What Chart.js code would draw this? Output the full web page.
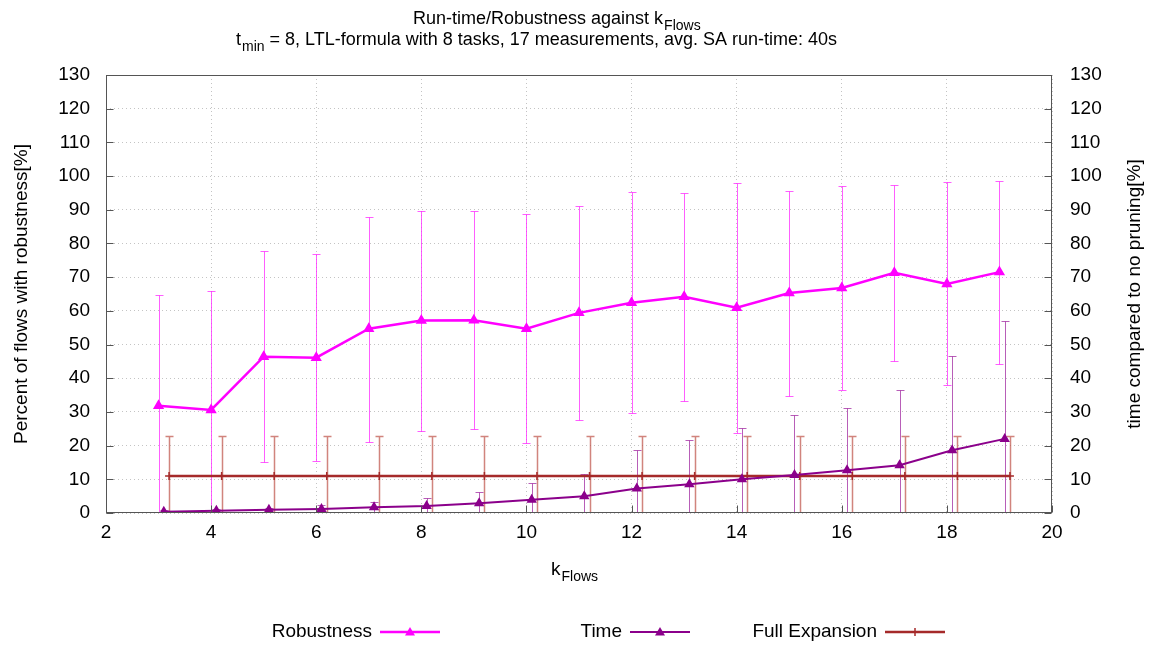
<!DOCTYPE html>
<html>
<head>
<meta charset="utf-8">
<script src="https://cdn.jsdelivr.net/npm/chart.js@4/dist/chart.umd.min.js"></script>
<style>
  html, body { margin: 0; padding: 0; background: #fff; }
</style>
</head>
<body>
<canvas id="myChart" width="1153" height="646"></canvas>
<script>
const FONT = '"Liberation Sans", Arial, sans-serif';

// data
const kFlows = [3, 4, 5, 6, 7, 8, 9, 10, 11, 12, 13, 14, 15, 16, 17, 18, 19];

const robustness     = [31.8, 30.6, 46.4, 46.1, 54.7, 57.1, 57.2, 54.7, 59.4, 62.4, 64.2, 60.9, 65.3, 66.8, 71.3, 68.0, 71.5];
const robustnessLow  = [0, 0, 15.0, 15.3, 21.0, 24.3, 24.8, 20.7, 27.6, 29.6, 33.3, 23.8, 34.6, 36.4, 45.0, 37.9, 44.2];
const robustnessHigh = [64.6, 65.8, 77.8, 76.8, 88.0, 89.5, 89.5, 88.6, 91.1, 95.2, 94.9, 97.8, 95.6, 97.2, 97.5, 98.2, 98.6];

const time     = [0.4, 0.7, 1.0, 1.2, 1.7, 2.1, 2.9, 3.9, 5.0, 7.3, 8.5, 10.0, 11.3, 12.7, 14.2, 18.6, 22.0];
const timeLow  = [0, 0, 0, 0, 0, 0, 0, 0, 0, 0, 0, 0, 0, 0, 0, 0, 0];
const timeHigh = [0.9, 1.2, 1.6, 2.5, 3.4, 4.5, 6.3, 8.8, 11.5, 18.6, 21.6, 25.2, 29.0, 31.3, 36.4, 46.6, 57.1];

const fullExpansion     = [11, 11, 11, 11, 11, 11, 11, 11, 11, 11, 11, 11, 11, 11, 11, 11, 11];
const fullExpansionLow  = [0, 0, 0, 0, 0, 0, 0, 0, 0, 0, 0, 0, 0, 0, 0, 0, 0];
const fullExpansionHigh = [23, 23, 23, 23, 23, 23, 23, 23, 23, 23, 23, 23, 23, 23, 23, 23, 23];

// series are shifted a bit along x so the error bars don't overlap
const timeShift = 0.1;
const fullShift = 0.2;

function toPoints(values, shift) {
  return kFlows.map((k, i) => ({ x: k + shift, y: values[i] }));
}

// vertical error bars with small caps
const errorBars = {
  id: 'errorBars',
  beforeDatasetsDraw(chart) {
    const ctx = chart.ctx;
    const a = chart.chartArea;
    ctx.save();
    ctx.beginPath();
    ctx.rect(a.left, a.top, a.right - a.left, a.bottom - a.top);
    ctx.clip();
    chart.data.datasets.forEach((ds, i) => {
      const meta = chart.getDatasetMeta(i);
      const ys = chart.scales[ds.yAxisID];
      ctx.strokeStyle = ds.errColor;
      ctx.lineWidth = ds.errWidth;
      meta.data.forEach((pt, j) => {
        const top = Math.round(ys.getPixelForValue(ds.errHigh[j])) + 0.5;
        const bot = Math.round(ys.getPixelForValue(ds.errLow[j])) + 0.5;
        const x = Math.round(pt.x) + 0.5;
        ctx.beginPath();
        ctx.moveTo(x, top); ctx.lineTo(x, bot);
        ctx.moveTo(x - 4, top); ctx.lineTo(x + 4, top);
        ctx.moveTo(x - 4, bot); ctx.lineTo(x + 4, bot);
        ctx.stroke();
      });
    });
    ctx.restore();
  }
};

// gnuplot style frame with inward ticks
const frame = {
  id: 'frame',
  afterDatasetsDraw(chart) {
    const ctx = chart.ctx;
    const a = chart.chartArea;
    const L = Math.round(a.left) + 0.5, R = Math.round(a.right) - 0.5;
    const T = Math.round(a.top) + 0.5, B = Math.round(a.bottom) - 0.5;
    ctx.save();
    ctx.strokeStyle = '#555';
    ctx.lineWidth = 1;
    ctx.strokeRect(L, T, R - L, B - T);
    ctx.beginPath();
    chart.scales.y.ticks.forEach(t => {
      const y = Math.round(chart.scales.y.getPixelForValue(t.value)) + 0.5;
      ctx.moveTo(L, y); ctx.lineTo(L + 7, y);
    });
    chart.scales.y2.ticks.forEach(t => {
      const y = Math.round(chart.scales.y2.getPixelForValue(t.value)) + 0.5;
      ctx.moveTo(R, y); ctx.lineTo(R - 7, y);
    });
    chart.scales.x.ticks.forEach(t => {
      const x = Math.round(chart.scales.x.getPixelForValue(t.value)) + 0.5;
      ctx.moveTo(x, B); ctx.lineTo(x, B - 7);
    });
    ctx.stroke();
    ctx.restore();
  }
};

function textWithSub(ctx, x, y, main, sub, size, after) {
  ctx.font = size + 'px ' + FONT;
  ctx.fillText(main, x, y);
  let w = ctx.measureText(main).width;
  ctx.font = Math.round(size * 0.75) + 'px ' + FONT;
  ctx.fillText(sub, x + w + 1, y + 6);
  w += ctx.measureText(sub).width + 1;
  if (after) {
    ctx.font = size + 'px ' + FONT;
    ctx.fillText(after, x + w, y);
  }
}

function drawMarker(ctx, style, x, y, color) {
  ctx.fillStyle = color;
  ctx.strokeStyle = color;
  if (style === 'triangle') {
    ctx.beginPath();
    ctx.moveTo(x, y - 5);
    ctx.lineTo(x + 5, y + 3.5);
    ctx.lineTo(x - 5, y + 3.5);
    ctx.closePath();
    ctx.fill();
  } else {
    ctx.lineWidth = 1.5;
    ctx.beginPath();
    ctx.moveTo(x - 4, y); ctx.lineTo(x + 4, y);
    ctx.moveTo(x, y - 4); ctx.lineTo(x, y + 4);
    ctx.stroke();
  }
}

const texts = {
  id: 'texts',
  afterDraw(chart) {
    const ctx = chart.ctx;
    ctx.save();
    ctx.fillStyle = '#000';
    ctx.textBaseline = 'alphabetic';
    ctx.textAlign = 'left';

    // title
    textWithSub(ctx, 413, 24, 'Run-time/Robustness against k', 'Flows', 18);
    textWithSub(ctx, 236, 45, 't', 'min', 18, ' = 8, LTL-formula with 8 tasks, 17 measurements, avg. SA run-time: 40s');

    // x axis title
    textWithSub(ctx, 551, 575, 'k', 'Flows', 19);

    // y axis titles, both reading bottom to top
    ctx.font = '19px ' + FONT;
    ctx.textAlign = 'center';
    ctx.textBaseline = 'middle';
    const midY = (chart.chartArea.top + chart.chartArea.bottom) / 2;
    ctx.save();
    ctx.translate(22, midY);
    ctx.rotate(-Math.PI / 2);
    ctx.fillText('Percent of flows with robustness[%]', 0, 0);
    ctx.restore();
    ctx.save();
    ctx.translate(1135, midY);
    ctx.rotate(-Math.PI / 2);
    ctx.fillText('time compared to no pruning[%]', 0, 0);
    ctx.restore();

    // legend: text, then line sample with marker
    const y = 632;
    chart.data.datasets.forEach(ds => {
      ctx.fillStyle = '#000';
      ctx.textAlign = 'right';
      ctx.font = '19px ' + FONT;
      ctx.fillText(ds.label, ds.legendX, y);
      const x1 = ds.legendX + 8, x2 = ds.legendX + 68;
      ctx.strokeStyle = ds.borderColor;
      ctx.lineWidth = ds.borderWidth;
      ctx.beginPath();
      ctx.moveTo(x1, y); ctx.lineTo(x2, y);
      ctx.stroke();
      drawMarker(ctx, ds.pointStyle, (x1 + x2) / 2, y, ds.borderColor);
    });
    ctx.restore();
  }
};

const tickFont = { family: FONT, size: 19 };

const config = {
  type: 'line',
  data: {
    datasets: [
      {
        label: 'Robustness',
        data: toPoints(robustness, 0),
        yAxisID: 'y',
        borderColor: '#ff00ff',
        backgroundColor: '#ff00ff',
        borderWidth: 2.5,
        pointStyle: 'triangle',
        pointRadius: 4,
        errLow: robustnessLow,
        errHigh: robustnessHigh,
        errColor: 'rgba(255, 40, 255, 0.75)',
        errWidth: 1,
        legendX: 372
      },
      {
        label: 'Time',
        data: toPoints(time, timeShift),
        yAxisID: 'y2',
        borderColor: '#8b008b',
        backgroundColor: '#8b008b',
        borderWidth: 2,
        pointStyle: 'triangle',
        pointRadius: 4,
        errLow: timeLow,
        errHigh: timeHigh,
        errColor: 'rgba(160, 40, 160, 0.75)',
        errWidth: 1,
        legendX: 622
      },
      {
        label: 'Full Expansion',
        data: toPoints(fullExpansion, fullShift),
        yAxisID: 'y',
        borderColor: '#a52a2a',
        backgroundColor: '#a52a2a',
        borderWidth: 2.5,
        pointStyle: 'cross',
        pointRadius: 4,
        pointBorderWidth: 1.5,
        errLow: fullExpansionLow,
        errHigh: fullExpansionHigh,
        errColor: 'rgba(190, 80, 70, 0.7)',
        errWidth: 1.5,
        legendX: 877
      }
    ]
  },
  options: {
    responsive: false,
    animation: false,
    layout: { padding: { top: 75, left: 0, right: 0, bottom: 0 } },
    elements: { line: { tension: 0 } },
    plugins: {
      legend: { display: false },
      title: { display: false },
      tooltip: { enabled: false }
    },
    scales: {
      x: {
        type: 'linear',
        min: 2,
        max: 20,
        ticks: { stepSize: 2, padding: 8, color: '#000', font: tickFont },
        grid: { color: '#c4c4c4', drawTicks: false },
        border: { display: false, dash: [1, 3] },
        afterFit(s) { s.height = 133; }
      },
      y: {
        position: 'left',
        min: 0,
        max: 130,
        ticks: { stepSize: 10, padding: 16, color: '#000', font: tickFont },
        grid: { color: '#c4c4c4', drawTicks: false },
        border: { display: false, dash: [1, 3] },
        afterFit(s) { s.width = 106; }
      },
      y2: {
        position: 'right',
        min: 0,
        max: 130,
        ticks: { stepSize: 10, padding: 18, color: '#000', font: tickFont },
        grid: { display: false, drawTicks: false },
        border: { display: false },
        afterFit(s) { s.width = 101; }
      }
    }
  },
  plugins: [errorBars, frame, texts]
};

const myChart = new Chart(document.getElementById('myChart'), config);
</script>
</body>
</html>
